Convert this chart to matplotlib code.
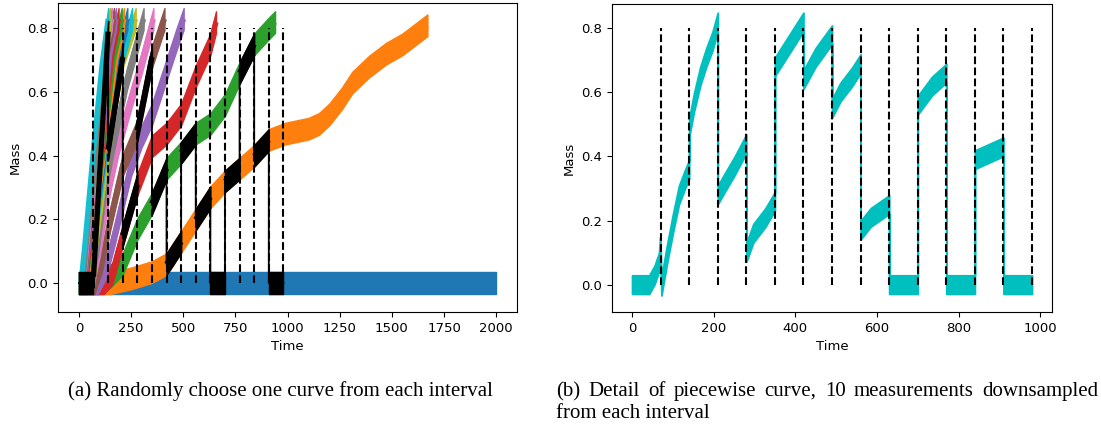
import matplotlib.pyplot as plt

# interval boundaries (dashed markers), one run picked per interval
bounds = [70, 140, 210, 280, 350, 420, 490, 560, 630, 700, 770, 840, 910, 980]

# growth runs, slowest first; colours follow the default tab10 cycle
run_t = [
    [0, 2000],
    [0, 150, 250, 350, 420, 490, 560, 630, 700, 770, 840, 910, 990, 1100, 1150,
     1200, 1260, 1310, 1390, 1470, 1550, 1630, 1670],
    [0, 100, 150, 210, 280, 350, 420, 490, 560, 630, 700, 770, 840, 910, 940],
    [0, 120, 160, 210, 280, 350, 420, 490, 560, 630, 657],
    [0, 90, 130, 170, 210, 250, 300, 350, 420, 470, 502],
    [0, 75, 110, 150, 210, 280, 350, 410],
    [0, 62, 100, 150, 190, 250, 300, 357],
    [0, 55, 90, 130, 165, 230, 310],
    [0, 50, 90, 140, 210, 272],
    [0, 45, 80, 135, 200, 255],
    [0, 40, 75, 130, 190, 232],
    [0, 36, 70, 125, 180, 216],
    [0, 33, 65, 120, 170, 205],
    [0, 30, 60, 115, 160, 190],
    [0, 27, 55, 110, 150, 178],
    [0, 24, 50, 105, 140, 168],
    [0, 22, 46, 100, 130, 158],
    [0, 20, 42, 95, 125, 150],
    [0, 55, 70, 140, 148],
    [0, 10, 30, 70, 110, 140],
]
run_mass = [
    [0.0, 0.0],
    [0.0, 0.0, 0.015, 0.035, 0.06, 0.13, 0.20, 0.27, 0.32, 0.36, 0.40, 0.45, 0.47,
     0.485, 0.50, 0.53, 0.58, 0.63, 0.68, 0.72, 0.75, 0.79, 0.81],
    [0.0, 0.0, 0.02, 0.06, 0.17, 0.25, 0.36, 0.41, 0.47, 0.50, 0.56, 0.66, 0.75, 0.80, 0.82],
    [0.0, 0.0, 0.03, 0.15, 0.31, 0.43, 0.47, 0.53, 0.65, 0.75, 0.82],
    [0.0, 0.0, 0.05, 0.15, 0.26, 0.37, 0.46, 0.53, 0.67, 0.77, 0.83],
    [0.0, 0.0, 0.07, 0.20, 0.37, 0.48, 0.71, 0.83],
    [0.0, 0.0, 0.12, 0.32, 0.44, 0.58, 0.69, 0.83],
    [0.0, 0.0, 0.12, 0.32, 0.44, 0.64, 0.83],
    [0.0, 0.0, 0.17, 0.42, 0.71, 0.83],
    [0.0, 0.0, 0.17, 0.44, 0.70, 0.83],
    [0.0, 0.0, 0.18, 0.44, 0.72, 0.83],
    [0.0, 0.0, 0.18, 0.44, 0.73, 0.83],
    [0.0, 0.0, 0.18, 0.44, 0.73, 0.83],
    [0.0, 0.0, 0.18, 0.44, 0.74, 0.83],
    [0.0, 0.0, 0.18, 0.44, 0.74, 0.83],
    [0.0, 0.0, 0.18, 0.44, 0.75, 0.83],
    [0.0, 0.0, 0.18, 0.44, 0.75, 0.83],
    [0.0, 0.0, 0.18, 0.44, 0.75, 0.83],
    [0.0, 0.0, 0.02, 0.79, 0.83],
    [0.0, 0.0, 0.13, 0.42, 0.68, 0.83],
]

# the run picked in each interval (start/end of every piece)
pick_t = [0, 70, 70, 140, 140, 210, 210, 280, 280, 350, 350, 420, 420, 490,
          490, 560, 560, 630, 630, 700, 700, 770, 770, 840, 840, 910, 910, 980]
pick_mass = [0.0, 0.0, 0.02, 0.79, 0.42, 0.71, 0.15, 0.31, 0.48, 0.71, 0.25, 0.36,
             0.06, 0.13, 0.41, 0.47, 0.20, 0.27, 0.0, 0.0, 0.32, 0.36, 0.66, 0.75,
             0.40, 0.45, 0.0, 0.0]

# piecewise curve, 10 measurements per interval
detail_t = [0, 42, 55, 66, 69, 72, 85, 100, 115, 130, 140,
            140, 152, 167, 182, 197, 210,
            210, 228, 251, 280,
            280, 297, 327, 350,
            350, 380, 420,
            420, 450, 490,
            490, 510, 540, 560,
            560, 585, 630,
            630, 700,
            700, 735, 770,
            770, 840,
            840, 910,
            910, 980]
detail_mass = [0.0, 0.0, 0.03, 0.07, 0.12, -0.005, 0.09, 0.19, 0.28, 0.33, 0.36,
               0.49, 0.57, 0.65, 0.71, 0.76, 0.82,
               0.28, 0.32, 0.37, 0.44,
               0.10, 0.16, 0.21, 0.26,
               0.68, 0.74, 0.82,
               0.64, 0.71, 0.78,
               0.55, 0.60, 0.65, 0.69,
               0.17, 0.21, 0.25,
               0.0, 0.0,
               0.56, 0.62, 0.66,
               0.0, 0.0,
               0.39, 0.43,
               0.0, 0.0]

noise = 0.034  # half-width of the measurement noise band

fig = plt.figure(figsize=(11.01, 4.26), dpi=100)
ax1 = fig.add_axes([0.0527, 0.268, 0.417, 0.725])
ax2 = fig.add_axes([0.5559, 0.268, 0.3996, 0.7226])


def band(ax, t, m, color, hw, lw=1.0, z=2):
    lo = [v - hw for v in m]
    hi = [v + hw for v in m]
    ax.fill_between(t, lo, hi, facecolor=color, edgecolor=color, linewidth=lw, zorder=z)


# --- (a) all runs with one picked per interval ---
for i, (t, m) in enumerate(zip(run_t, run_mass)):
    c = "C%d" % (i % 10)
    band(ax1, t, m, c, noise, z=2 + i * 0.01)
    ax1.plot(t, m, color=c, lw=3.8, solid_capstyle="butt", zorder=2 + i * 0.01)

for k in range(0, len(pick_t), 2):
    band(ax1, pick_t[k:k + 2], pick_mass[k:k + 2], "k", noise, z=3)
    ax1.plot(pick_t[k:k + 2], pick_mass[k:k + 2], color="k", lw=3.8,
             solid_capstyle="butt", zorder=3)
ax1.plot(pick_t, pick_mass, color="k", lw=1.3, zorder=3)
ax1.vlines(bounds, 0, 0.8, colors="k", linestyles="dashed", lw=1.5, zorder=4)

ax1.set_xlim(-100, 2100)
ax1.set_ylim(-0.09, 0.88)
ax1.set_xlabel("Time", fontsize=9.5)
ax1.set_ylabel("Mass", fontsize=9.5)

# --- (b) the piecewise curve ---
band(ax2, detail_t, detail_mass, "c", 0.029, lw=1.3)
ax2.vlines(bounds, 0, 0.8, colors="k", linestyles="dashed", lw=1.5, zorder=4)
ax2.set_xlim(-49, 1029)
ax2.set_ylim(-0.085, 0.876)
ax2.set_xlabel("Time", fontsize=9.5)
ax2.set_ylabel("Mass", fontsize=9.5)

for ax in (ax1, ax2):
    ax.tick_params(labelsize=9.5)

# sub-captions, first line of (b) justified to the column width
serif = dict(family="Liberation Serif", fontsize=15, va="baseline")
fig.text(68 / 1101, 1 - 396 / 426, "(a) Randomly choose one curve from each interval", **serif)

words = "(b) Detail of piecewise curve, 10 measurements downsampled".split()
renderer = fig.canvas.get_renderer()
items = [fig.text(0, 1 - 396 / 426, w, **serif) for w in words]
widths = [it.get_window_extent(renderer).width for it in items]
x0, x1 = 556.0, 1098.0
gap = (x1 - x0 - sum(widths)) / (len(words) - 1)
x = x0
for it, w in zip(items, widths):
    it.set_x(x / 1101)
    x += w + gap
fig.text(556 / 1101, 1 - 418 / 426, "from each interval", **serif)

fig.savefig("out.png", dpi=100)
